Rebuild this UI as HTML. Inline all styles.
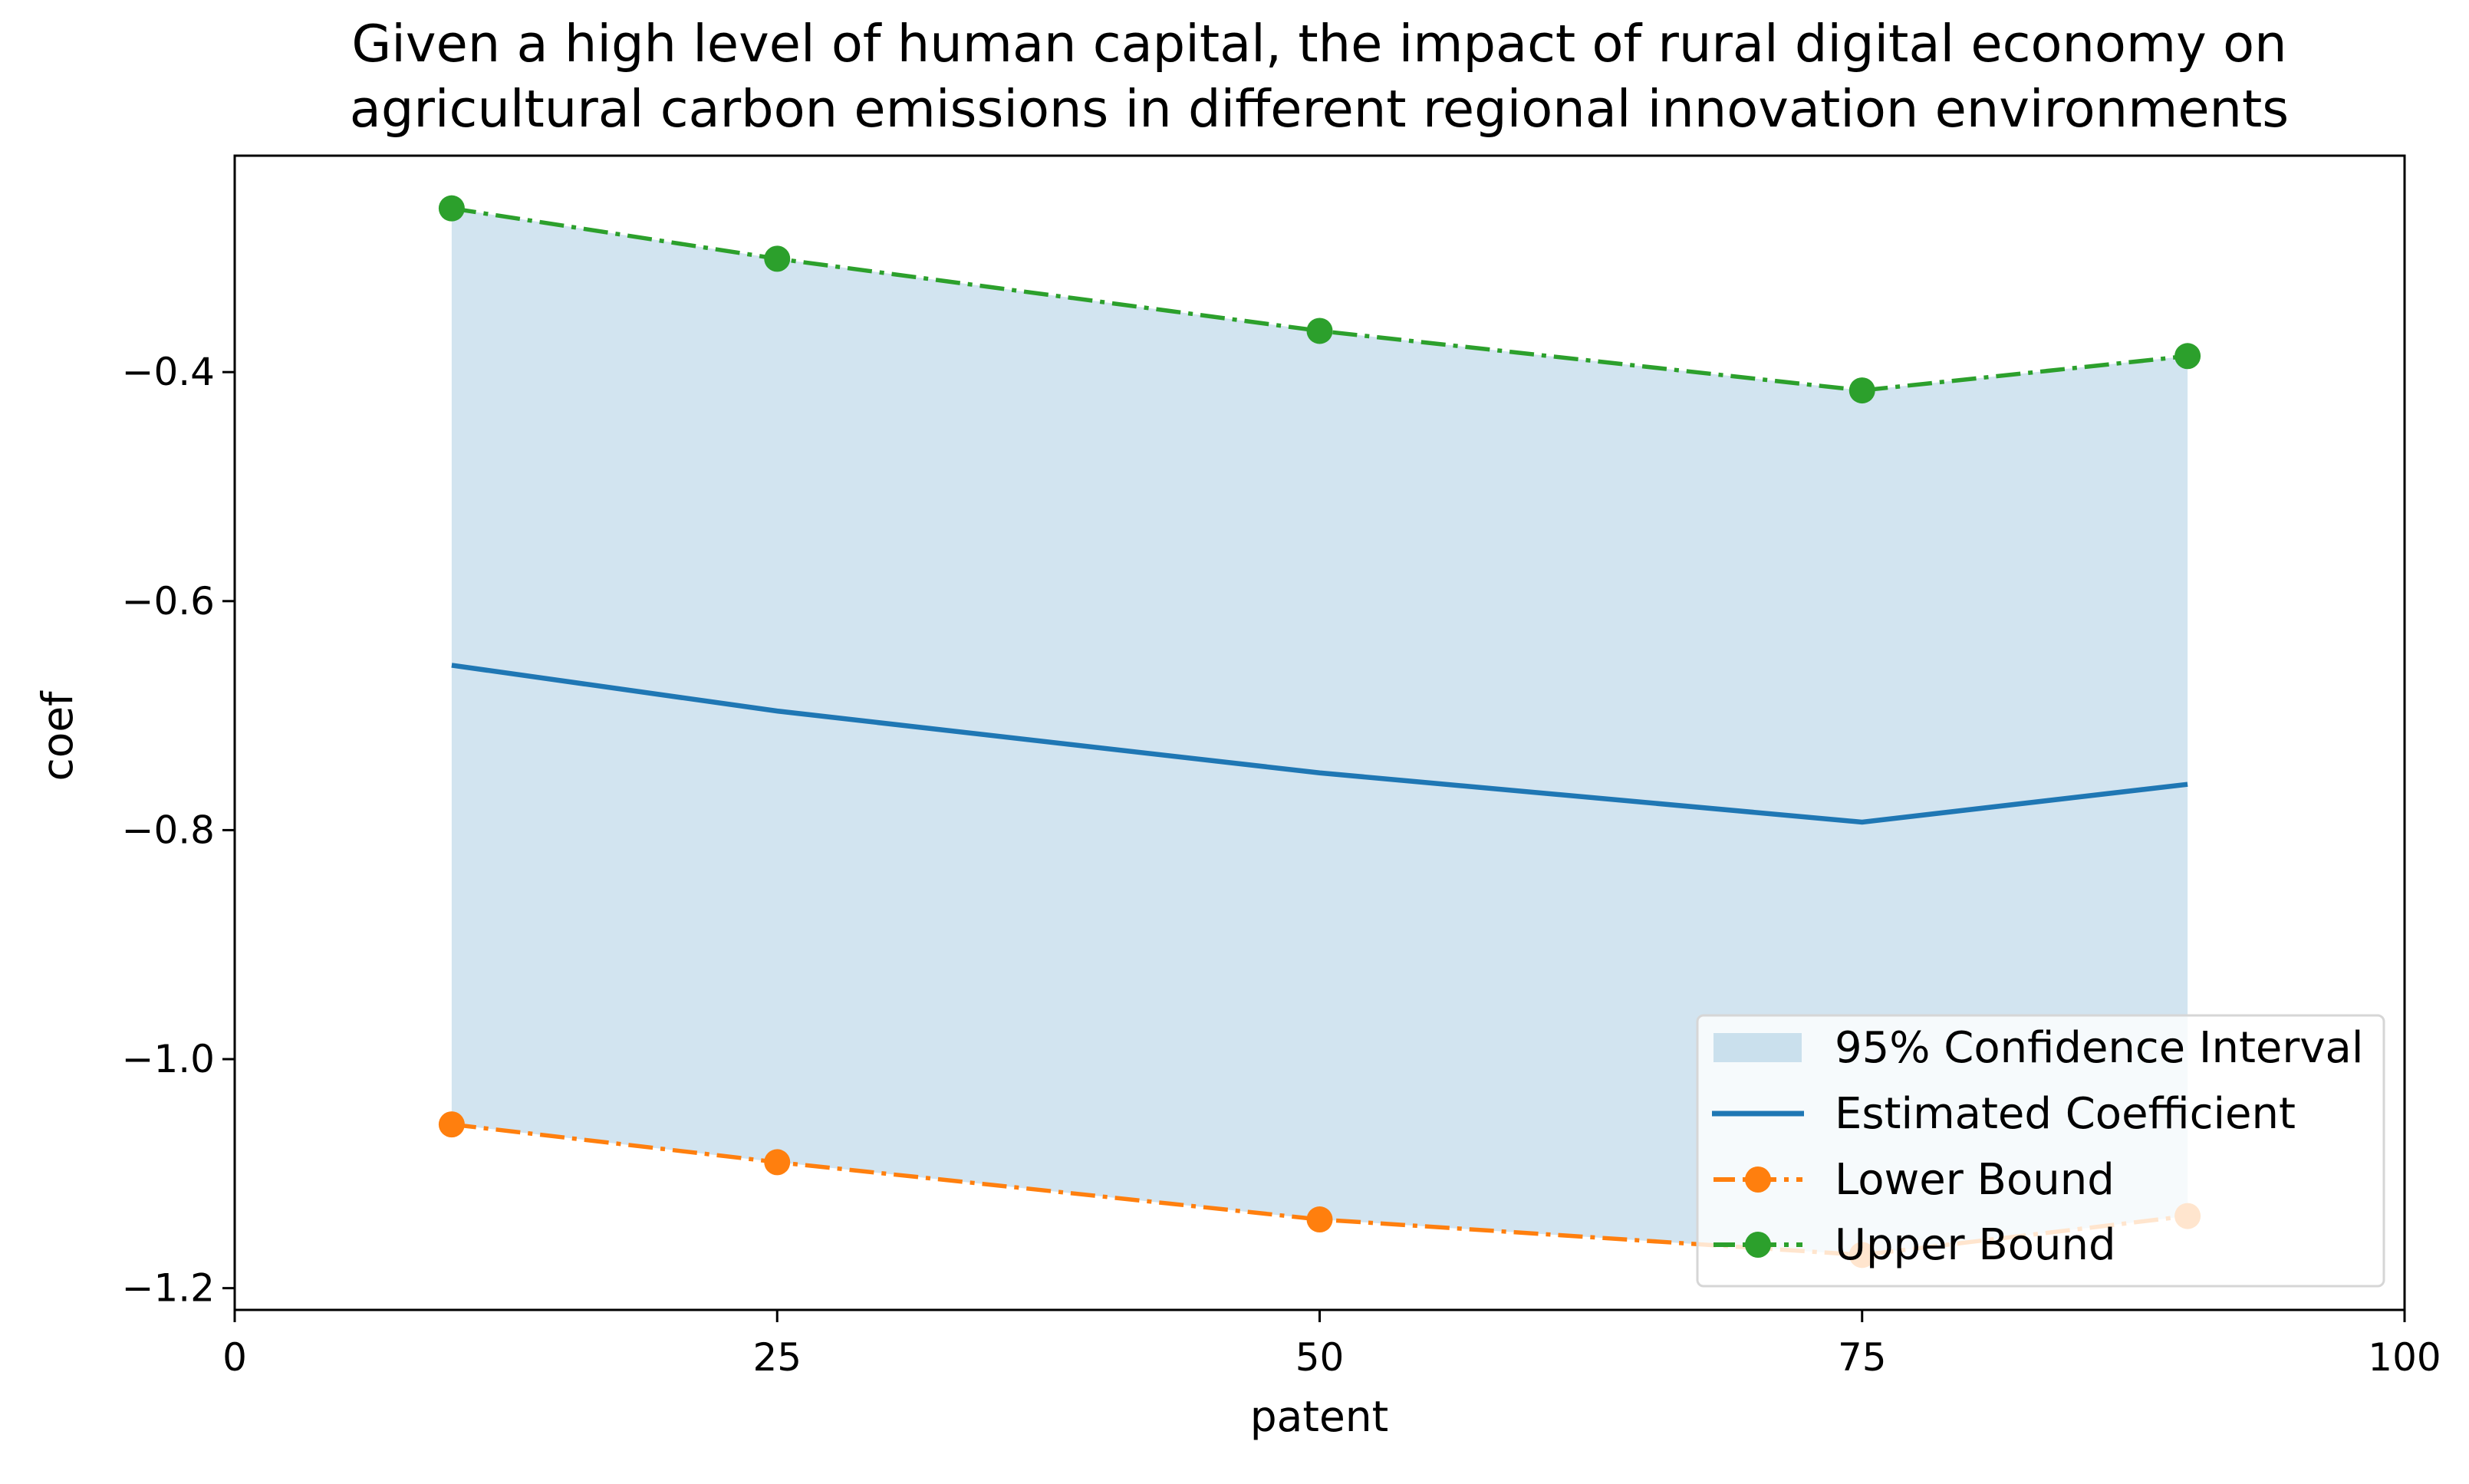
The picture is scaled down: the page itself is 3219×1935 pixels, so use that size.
<!DOCTYPE html>
<html><head><meta charset="utf-8"><style>html,body{margin:0;padding:0;background:#fff}svg{display:block}text{font-family:"DejaVu Sans","Liberation Sans",sans-serif;fill:#000}</style></head>
<body>
<svg id="chart" width="3219" height="1935" viewBox="0 0 3219 1935" xmlns="http://www.w3.org/2000/svg">
<rect width="3219" height="1935" fill="#fff"/>
<text x="1720" y="80" font-size="67" text-anchor="middle">Given a high level of human capital, the impact of rural digital economy on</text>
<text x="1720" y="165" font-size="67" text-anchor="middle">agricultural carbon emissions in different regional innovation environments</text>
<g id="plot"></g>
<g id="axes"></g>
<text x="1720" y="1866" font-size="55" text-anchor="middle">patent</text>
<text x="0" y="0" font-size="55" text-anchor="middle" transform="translate(94,960) rotate(-90)">coef</text>
<g id="legend"></g>
</svg>
<script>
const xs = [10, 25, 50, 75, 90];
const coef = [-0.656, -0.696, -0.750, -0.793, -0.760];
const lower = [-1.057, -1.090, -1.140, -1.171, -1.137];
const upper = [-0.257, -0.301, -0.364, -0.416, -0.386];
const xTicks = [0, 25, 50, 75, 100];
const yTicks = [-0.4, -0.6, -0.8, -1.0, -1.2];
const yTickLabels = ["\u22120.4", "\u22120.6", "\u22120.8", "\u22121.0", "\u22121.2"];

const NS = "http://www.w3.org/2000/svg";
const L = 306, R = 3135, T = 203, B = 1708;
const xMin = 0, xMax = 100, yMin = -1.219, yMax = -0.211;
const sx = v => L + (v - xMin) / (xMax - xMin) * (R - L);
const sy = v => B - (v - yMin) / (yMax - yMin) * (B - T);
function mk(tag, attrs, parent) {
  const e = document.createElementNS(NS, tag);
  for (const k in attrs) e.setAttribute(k, attrs[k]);
  parent.appendChild(e);
  return e;
}
const plot = document.getElementById('plot');
const axes = document.getElementById('axes');
const legend = document.getElementById('legend');

let d = xs.map((x, i) => (i ? 'L' : 'M') + sx(x) + ',' + sy(upper[i])).join(' ');
for (let i = xs.length - 1; i >= 0; i--) d += ' L' + sx(xs[i]) + ',' + sy(lower[i]);
const band = mk('path', { d: d + ' Z', fill: '#1f77b4', 'fill-opacity': 0.2 }, plot);



const line = (vals) => xs.map((x, i) => sx(x) + ',' + sy(vals[i])).join(' ');
const cl = mk('polyline', { points: line(coef), fill: 'none', stroke: '#1f77b4', 'stroke-width': 6.5 }, plot);



function bound(vals, color, name) {
  const pl = mk('polyline', { points: line(vals), fill: 'none', stroke: color, 'stroke-width': 5.5, 'stroke-dasharray': '32 10 6 10' }, plot);
  
  
  xs.forEach((x, i) => {
    const c = mk('circle', { cx: sx(x), cy: sy(vals[i]), r: 17, fill: color }, plot);
    
    
  });
}
bound(lower, '#ff7f0e', 'lower-bound');
bound(upper, '#2ca02c', 'upper-bound');

const fr = mk('rect', { x: L, y: T, width: R - L, height: B - T, fill: 'none', stroke: '#000', 'stroke-width': 3 }, axes);


xTicks.forEach(v => {
  const t = mk('line', { x1: sx(v), x2: sx(v), y1: B, y2: B + 16, stroke: '#000', 'stroke-width': 3 }, axes);
  
  
  const tx = mk('text', { x: sx(v), y: 1787, 'font-size': 50, 'text-anchor': 'middle' }, axes);
  tx.textContent = v;
  
  
});
yTicks.forEach((v, i) => {
  const t = mk('line', { x1: L - 16, x2: L, y1: sy(v), y2: sy(v), stroke: '#000', 'stroke-width': 3 }, axes);
  
  
  const tx = mk('text', { x: L - 26, y: sy(v) + 17, 'font-size': 50, 'text-anchor': 'end' }, axes);
  tx.textContent = yTickLabels[i];
  
  
});

const lg = mk('rect', { x: 2213, y: 1324, width: 895, height: 353, rx: 8, fill: '#fff', 'fill-opacity': 0.8, stroke: '#d6d6d6', 'stroke-width': 3 }, legend);


const ly = [1366, 1452, 1538, 1623];
const labels = ['95% Confidence Interval', 'Estimated Coefficient', 'Lower Bound', 'Upper Bound'];
const names = ['legend-entry-ci', 'legend-entry-coefficient', 'legend-entry-lower', 'legend-entry-upper'];
const sw = mk('rect', { x: 2234, y: ly[0] - 19, width: 115, height: 38, fill: '#1f77b4', 'fill-opacity': 0.2 }, legend);


const s2 = mk('line', { x1: 2232, x2: 2352, y1: ly[1], y2: ly[1], stroke: '#1f77b4', 'stroke-width': 7 }, legend);


[['#ff7f0e', 2], ['#2ca02c', 3]].forEach(([c, i]) => {
  const s = mk('line', { x1: 2234, x2: 2350, y1: ly[i], y2: ly[i], stroke: c, 'stroke-width': 6, 'stroke-dasharray': '28 10 6 10' }, legend);
  
  
  const m = mk('circle', { cx: 2292, cy: ly[i], r: 17, fill: c }, legend);
  
  
});
labels.forEach((t, i) => {
  const tx = mk('text', { x: 2392, y: ly[i] + 19, 'font-size': 56 }, legend);
  tx.textContent = t;
  
  
});
</script>
</body></html>
